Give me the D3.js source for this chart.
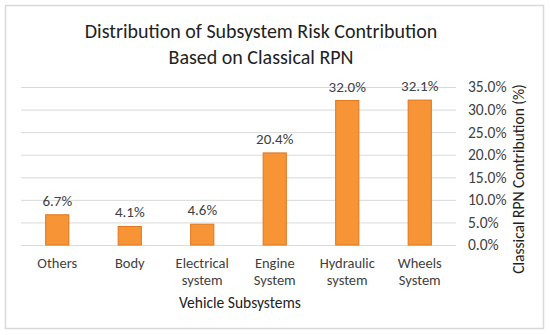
<!DOCTYPE html>
<html>
<head>
<meta charset="utf-8">
<script src="https://cdn.jsdelivr.net/npm/d3@7"></script>
<style>
  body { margin: 0; background: #fff; }
  svg { font-family: Calibri, Carlito, "Open Sans", sans-serif; }
</style>
</head>
<body>
<svg id="chart" width="550" height="335"></svg>
<script>
const categories = [["Others"], ["Body"], ["Electrical", "system"], ["Engine", "System"], ["Hydraulic", "system"], ["Wheels", "System"]];
const values = [6.7, 4.1, 4.6, 20.4, 32.0, 32.1];
const yTicks = [0, 5, 10, 15, 20, 25, 30, 35];
const titleLines = ["Distribution of Subsystem Risk Contribution", "Based on Classical RPN"];
const xTitle = "Vehicle Subsystems";
const yTitle = "Classical RPN Contribution (%)";

const svg = d3.select("#chart");
const plot = {left: 21, right: 456, top: 87, bottom: 245};

// outer frame
svg.append("rect")
	.attr("x", 5.5).attr("y", 5.5)
	.attr("width", 538).attr("height", 323)
	.attr("fill", "#fff")
	.attr("stroke", "#d9d9d9").attr("stroke-width", 1.5);

// title
svg.append("g").selectAll("text")
	.data(titleLines)
	.enter().append("text")
	.attr("x", 261)
	.attr("y", (d, i) => 38 + i * 26)
	.attr("text-anchor", "middle")
	.attr("font-size", "20px")
	.attr("fill", "#222")
	.text(d => d);

const x = d3.scaleBand()
	.domain(categories.map((d, i) => i))
	.range([plot.left, plot.right])
	.paddingInner(0.68)
	.paddingOuter(0.34);

const y = d3.scaleLinear()
	.domain([0, 35])
	.range([plot.bottom, plot.top]);

// gridlines
svg.append("g").selectAll("line")
	.data(yTicks)
	.enter().append("line")
	.attr("x1", plot.left).attr("x2", plot.right)
	.attr("y1", d => y(d) + 0.5).attr("y2", d => y(d) + 0.5)
	.attr("stroke", "#d9d9d9").attr("stroke-width", 1);

// right axis labels
const yAxis = d3.axisRight(y)
	.tickValues(yTicks)
	.tickSize(0)
	.tickPadding(12)
	.tickFormat(d => d.toFixed(1) + "%");

svg.append("g")
	.attr("transform", "translate(" + plot.right + ",0)")
	.call(yAxis)
	.call(g => g.select(".domain").remove())
	.selectAll("text")
	.attr("font-size", "15.5px")
	.attr("font-family", "Calibri, Carlito, 'Open Sans', sans-serif")
	.attr("fill", "#404040");

// bars
svg.append("g").selectAll("rect")
	.data(values)
	.enter().append("rect")
	.attr("x", (d, i) => x(i))
	.attr("y", d => y(d))
	.attr("width", x.bandwidth())
	.attr("height", d => y(0) - y(d))
	.attr("fill", "#f79536")
	.attr("stroke", "#e0761e")
	.attr("stroke-width", 1);

// value labels
svg.append("g").selectAll("text")
	.data(values)
	.enter().append("text")
	.attr("x", (d, i) => x(i) + x.bandwidth() / 2)
	.attr("y", d => y(d) - 9)
	.attr("text-anchor", "middle")
	.attr("font-size", "15px")
	.attr("fill", "#404040")
	.text(d => d.toFixed(1) + "%");

// category labels
const catG = svg.append("g").selectAll("text")
	.data(categories)
	.enter().append("text")
	.attr("text-anchor", "middle")
	.attr("font-size", "14.5px")
	.attr("fill", "#404040");
catG.selectAll("tspan")
	.data((d, i) => d.map(line => ({line, i})))
	.enter().append("tspan")
	.attr("x", d => x(d.i) + x.bandwidth() / 2)
	.attr("y", (d, j) => 268 + j * 17)
	.text(d => d.line);

// axis titles
svg.append("text")
	.attr("x", 240)
	.attr("y", 308)
	.attr("text-anchor", "middle")
	.attr("font-size", "15.5px")
	.attr("fill", "#222")
	.text(xTitle);

svg.append("text")
	.attr("transform", "translate(524,179) rotate(-90)")
	.attr("text-anchor", "middle")
	.attr("font-size", "15.5px")
	.attr("fill", "#222")
	.text(yTitle);
</script>
</body>
</html>
